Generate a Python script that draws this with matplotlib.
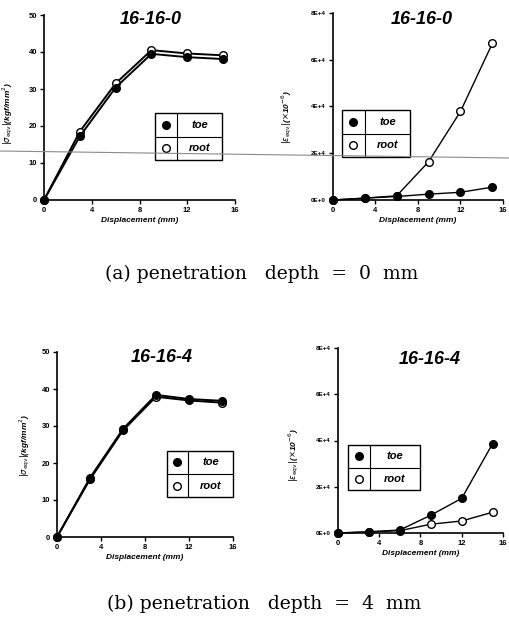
import matplotlib
matplotlib.use("Agg")
import matplotlib.pyplot as plt
from matplotlib.lines import Line2D
from matplotlib.patches import Rectangle

plt.rcParams['font.family'] = ['Liberation Sans', 'DejaVu Sans']

W, H = 510, 626

disp = [0, 3, 6, 9, 12, 15]
x_ticks = [0, 4, 8, 12, 16]
stress_ticks = [0, 10, 20, 30, 40, 50]
strain_ticks = [0, 20000, 40000, 60000, 80000]
strain_tick_labels = ["0E+0", "2E+4", "4E+4", "6E+4", "8E+4"]
legend_labels = ["toe", "root"]
titles = ["16-16-0", "16-16-4"]
captions = ["(a) penetration   depth  =  0  mm", "(b) penetration   depth  =  4  mm"]

# (a) penetration depth 0 mm
stress_toe_a = [0, 17.2, 30.4, 39.5, 38.6, 38.1]
stress_root_a = [0, 18.5, 31.5, 40.5, 39.6, 39.1]
strain_toe_a = [0, 800, 1500, 2500, 3300, 5500]
strain_root_a = [0, 800, 1800, 16400, 37900, 67000]

# (b) penetration depth 4 mm
stress_toe_b = [0, 16.0, 29.2, 38.4, 37.3, 36.8]
stress_root_b = [0, 15.6, 28.8, 37.9, 36.9, 36.3]
strain_toe_b = [0, 500, 1300, 7700, 15000, 38700]
strain_root_b = [0, 500, 1000, 3800, 5200, 9000]


def px_rect(left, right, bottom, top):
    # pixel box -> figure fraction
    return [left / W, 1 - bottom / H, (right - left) / W, (bottom - top) / H]


def draw_key(ax, x0, x1, xc, y0, y1):
    ym = (y0 + y1) / 2
    kw = dict(transform=ax.transAxes, clip_on=False, zorder=6)
    ax.add_patch(Rectangle((x0, y0), x1 - x0, y1 - y0, facecolor='white',
                           edgecolor='black', lw=1.0, zorder=5,
                           transform=ax.transAxes, clip_on=False))
    ax.add_line(Line2D([x0, x1], [ym, ym], color='black', lw=0.8, **kw))
    ax.add_line(Line2D([xc, xc], [y0, y1], color='black', lw=0.8, **kw))
    rows = [(y1 + ym) / 2, (y0 + ym) / 2]
    faces = ['black', 'white']
    for yy, fc, lab in zip(rows, faces, legend_labels):
        ax.plot([(x0 + xc) / 2], [yy], 'o', ms=5.5, mfc=fc, mec='black',
                mew=1.0, **kw)
        ax.text((xc + x1) / 2, yy, lab, ha='center', va='center',
                fontsize=8, fontweight='bold', style='italic', zorder=7,
                transform=ax.transAxes)


def setup(ax, yticks, ylim):
    ax.spines['top'].set_visible(False)
    ax.spines['right'].set_visible(False)
    for s in ['left', 'bottom']:
        ax.spines[s].set_linewidth(1.2)
    ax.set_xlim(0, 16)
    ax.set_ylim(*ylim)
    ax.set_xticks(x_ticks)
    ax.set_yticks(yticks)
    ax.tick_params(direction='out', length=3, width=1, labelsize=5.5, pad=2)
    for t in ax.get_xticklabels() + ax.get_yticklabels():
        t.set_fontweight('bold')
    ax.set_xlabel("Displacement (mm)", fontsize=6, fontweight='bold',
                  style='italic', labelpad=2)


def draw_pair(ax, toe, root, lw, ms):
    ax.plot(disp, root, '-o', color='black', lw=lw, ms=ms, mfc='white',
            mec='black', mew=1.0, clip_on=False, zorder=3)
    ax.plot(disp, toe, '-o', color='black', lw=lw, ms=ms, mfc='black',
            mec='black', clip_on=False, zorder=4)


fig = plt.figure(figsize=(W / 100, H / 100), dpi=100)

panels = [
    # stress axes, strain axes, data, titles pos, ylabel pos, key boxes
    dict(s_box=(44, 235, 200, 15), e_box=(333, 503, 200, 13),
         s_toe=stress_toe_a, s_root=stress_root_a,
         e_toe=strain_toe_a, e_root=strain_root_a,
         title=titles[0], s_title=(151, 20), e_title=(422, 20),
         s_ylab=(8, 113), e_ylab=(287, 117),
         s_key=(0.581, 0.932, 0.696, 0.216, 0.470),
         e_key=(0.053, 0.453, 0.188, 0.230, 0.481),
         caption=captions[0], cap=(105, 274)),
    dict(s_box=(57, 233, 537, 352), e_box=(338, 503, 533, 348),
         s_toe=stress_toe_b, s_root=stress_root_b,
         e_toe=strain_toe_b, e_root=strain_root_b,
         title=titles[1], s_title=(162, 358), e_title=(430, 360),
         s_ylab=(25, 445), e_ylab=(294, 455),
         s_key=(0.625, 1.0, 0.744, 0.216, 0.465),
         e_key=(0.061, 0.497, 0.194, 0.232, 0.476),
         caption=captions[1], cap=(107, 604)),
]

for p in panels:
    l, r, b, t = p['s_box']
    ax1 = fig.add_axes(px_rect(l, r, b, t))
    setup(ax1, stress_ticks, (0, 50))
    draw_pair(ax1, p['s_toe'], p['s_root'], 1.4, 5.5)
    draw_key(ax1, *p['s_key'])

    l, r, b, t = p['e_box']
    ax2 = fig.add_axes(px_rect(l, r, b, t))
    setup(ax2, strain_ticks, (0, 80000))
    ax2.set_yticklabels(strain_tick_labels)
    for tl in ax2.get_yticklabels():
        tl.set_fontweight('bold')
        tl.set_fontsize(4.5)
    draw_pair(ax2, p['e_toe'], p['e_root'], 1.0, 5.5)
    draw_key(ax2, *p['e_key'])

    for (tx, ty) in (p['s_title'], p['e_title']):
        fig.text(tx / W, 1 - ty / H, p['title'], ha='center', va='center',
                 fontsize=13, fontweight='bold', style='italic')

    fig.text(p['s_ylab'][0] / W, 1 - p['s_ylab'][1] / H,
             r"$|\sigma_{\rm eqv}|$(kgf/mm$^2$)", rotation=90,
             ha='center', va='center', fontsize=6, fontweight='bold',
             style='italic')
    fig.text(p['e_ylab'][0] / W, 1 - p['e_ylab'][1] / H,
             r"$|\varepsilon_{\rm eqv}|$($\times$10$^{-6}$)", rotation=90,
             ha='center', va='center', fontsize=6, fontweight='bold',
             style='italic')

    fig.text(p['cap'][0] / W, 1 - p['cap'][1] / H, p['caption'], ha='left',
             va='center', fontsize=13.5, family='DejaVu Serif')

# faint scan line running across the top figures
fig.add_artist(Line2D([0, 1], [1 - 151 / H, 1 - 158 / H], color='#8a8a8a',
                      lw=0.8, zorder=10))

fig.savefig("out.png", dpi=100)
